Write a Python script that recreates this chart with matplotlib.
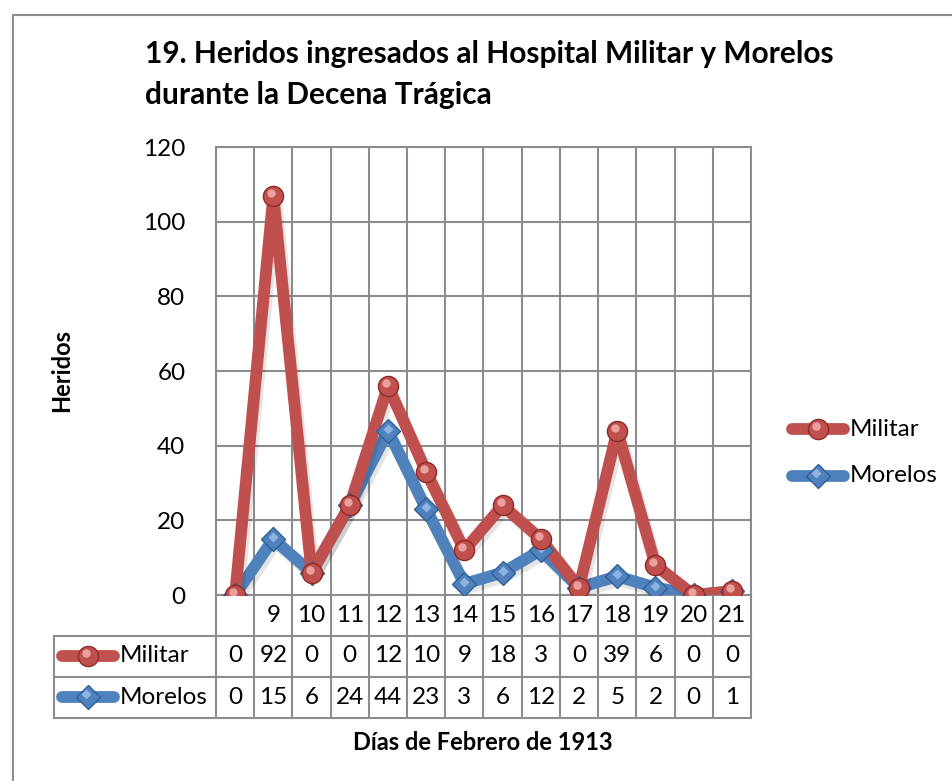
import numpy as np
import matplotlib
matplotlib.use("Agg")
import matplotlib.pyplot as plt
import matplotlib.patheffects as pe
from matplotlib.lines import Line2D
from matplotlib.patches import Rectangle
from matplotlib.transforms import blended_transform_factory, offset_copy

plt.rcParams['font.family'] = ['Lato', 'DejaVu Sans']

# ---------------- datos ----------------
dias = ['', '9', '10', '11', '12', '13', '14', '15', '16', '17', '18', '19', '20', '21']
militar = [0, 92, 0, 0, 12, 10, 9, 18, 3, 0, 39, 6, 0, 0]
morelos = [0, 15, 6, 24, 44, 23, 3, 6, 12, 2, 5, 2, 0, 1]

titulo = '19. Heridos ingresados al Hospital Militar y Morelos\ndurante la Decena Trágica'
ylab = 'Heridos'
xlab = 'Días de Febrero de 1913'

ROJO = '#C0504D'
AZUL = '#4F81BD'
GRIS = '#8C8C8C'
FS = 17.5
LW = 8.5

W, H = 953, 781
fig = plt.figure(figsize=(W/100, H/100), dpi=100)

def fx(p):
    return p / W

def fy(p):
    return 1 - p / H

# marco exterior
fig.add_artist(Rectangle((fx(13), fy(800)), fx(1000), fy(15) - fy(800),
                         transform=fig.transFigure, fill=False,
                         edgecolor=GRIS, linewidth=1.5))

L, R, T, B = 216, 751, 147, 595
ax = fig.add_axes([fx(L), fy(B), fx(R) - fx(L), fy(T) - fy(B)])

x = np.arange(len(dias))
apilado = np.array(militar) + np.array(morelos)   # línea apilada (como Excel)

sombra = [pe.SimpleLineShadow(offset=(2, -3), alpha=0.10, shadow_color='k'), pe.Normal()]

ax.plot(x, morelos, color=AZUL, lw=LW, solid_capstyle='round', zorder=3,
        path_effects=sombra)
ax.plot(x, apilado, color=ROJO, lw=LW, solid_capstyle='round', zorder=4,
        path_effects=sombra)

# marcadores con brillo
ax.plot(x, morelos, ls='none', marker='D', ms=12.5, mfc=AZUL, mec='#2F5F95',
        mew=1, zorder=5)
ax.plot(x, morelos, ls='none', marker='D', ms=5, mfc='#8DB3E2', mec='none',
        zorder=5, transform=offset_copy(ax.transData, fig, x=0, y=2, units='dots'))
ax.plot(x, apilado, ls='none', marker='o', ms=14.5, mfc=ROJO, mec='#8E2B28',
        mew=1, zorder=6)
ax.plot(x, apilado, ls='none', marker='o', ms=6, mfc='#E9A09E', mec='none',
        zorder=6, transform=offset_copy(ax.transData, fig, x=-2, y=3, units='dots'))

ax.set_xlim(-0.5, len(dias) - 0.5)
ax.set_ylim(0, 120)
ax.set_yticks(np.arange(0, 121, 20))
ax.set_xticks(np.arange(-0.5, len(dias), 1))
ax.set_xticklabels([])
ax.grid(True, color=GRIS, lw=1.5)
ax.set_axisbelow(True)
ax.tick_params(axis='both', length=0)
ax.tick_params(axis='y', labelsize=FS, pad=22)
for s in ax.spines.values():
    s.set_color(GRIS)
    s.set_linewidth(1.5)

# ---------------- tabla de datos ----------------
tr = ax.get_xaxis_transform()
trL = blended_transform_factory(fig.transFigure, ax.transAxes)

def ay(p):
    return (B - p) / (B - T)

y_lab, y_r1, y_r2, y_r3 = B, 636, 677, 718
for k in range(len(dias) + 1):
    ax.add_line(Line2D([k - 0.5, k - 0.5], [ay(y_lab), ay(y_r3)], transform=tr,
                       color=GRIS, lw=1.5, clip_on=False))
for yy in (y_r1, y_r2, y_r3):
    ax.add_line(Line2D([fx(54), fx(R)], [ay(yy), ay(yy)], transform=trL,
                       color=GRIS, lw=1.5, clip_on=False))
ax.add_line(Line2D([fx(54), fx(54)], [ay(y_r1), ay(y_r3)], transform=trL,
                   color=GRIS, lw=1.5, clip_on=False))

for i, d in enumerate(dias):
    ax.text(i, ay(615), d, transform=tr, ha='center', va='center', fontsize=FS)
    ax.text(i, ay(656), str(militar[i]), transform=tr, ha='center', va='center', fontsize=FS)
    ax.text(i, ay(697), str(morelos[i]), transform=tr, ha='center', va='center', fontsize=FS)

def clave(x0, x1, yp, color, marker, ms, mec, hl):
    fig.add_artist(Line2D([fx(x0), fx(x1)], [fy(yp), fy(yp)], color=color, lw=LW,
                          solid_capstyle='round', transform=fig.transFigure))
    xm = (x0 + x1) / 2
    fig.add_artist(Line2D([fx(xm)], [fy(yp)], ls='none', marker=marker, ms=ms,
                          mfc=color, mec=mec, mew=1, transform=fig.transFigure))
    fig.add_artist(Line2D([fx(xm - 2)], [fy(yp - 3)], ls='none', marker=marker,
                          ms=ms * 0.42, mfc=hl, mec='none', transform=fig.transFigure))

clave(62, 114, 656, ROJO, 'o', 14.5, '#8E2B28', '#E9A09E')
clave(62, 114, 697, AZUL, 'D', 12.5, '#2F5F95', '#8DB3E2')
fig.text(fx(120), fy(656), 'Militar', ha='left', va='center', fontsize=FS)
fig.text(fx(120), fy(697), 'Morelos', ha='left', va='center', fontsize=FS)

# ---------------- leyenda ----------------
clave(792, 844, 429, ROJO, 'o', 14.5, '#8E2B28', '#E9A09E')
clave(792, 844, 476, AZUL, 'D', 12.5, '#2F5F95', '#8DB3E2')
fig.text(fx(850), fy(429), 'Militar', ha='left', va='center', fontsize=FS)
fig.text(fx(850), fy(476), 'Morelos', ha='left', va='center', fontsize=FS)

# ---------------- textos ----------------
fig.text(fx(145), fy(40), titulo, ha='left', va='top', fontsize=21.5,
         fontweight='bold', linespacing=1.55)
fig.text(fx(62), fy(370), ylab, rotation=90, ha='center', va='center',
         fontsize=17, fontweight='bold')
fig.text(fx(483), fy(742), xlab, ha='center', va='center', fontsize=17,
         fontweight='bold')

fig.savefig('out.png', dpi=100)
